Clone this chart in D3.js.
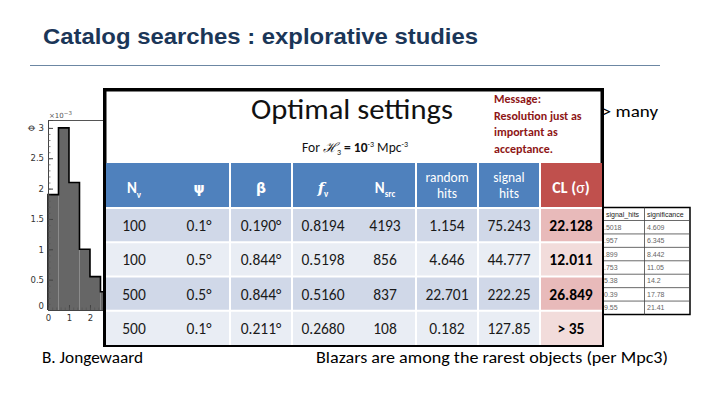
<!DOCTYPE html>
<meta charset="utf-8">
<script src="https://d3js.org/d3.v7.min.js"></script>
<style>
  body { margin: 0; background: #fff; }
  svg { display: block; }
  .calib { font-family: Carlito, Lato, "Noto Sans", sans-serif; }
</style>
<body></body>
<script>

// ---- data ----
var histEdges = [0, 0.5, 1, 1.5, 2, 2.5, 3];
var histValues = [1.9, 3.0, 2.1, 1.0, 0.55, 0.3];
var yTicks = [0, 0.5, 1, 1.5, 2, 2.5, 3];
var xTicks = [0, 1, 2];

var columns = ["nv", "psi", "beta", "fv", "nsrc", "random", "signal", "cl"];
var nuCol = [100, 100, 500, 500];
var psiCol = ["0.1°", "0.5°", "0.5°", "0.1°"];
var betaCol = ["0.190°", "0.844°", "0.844°", "0.211°"];
var fvCol = ["0.8194", "0.5198", "0.5160", "0.2680"];
var nsrcCol = [4193, 856, 837, 108];
var randomCol = ["1.154", "4.646", "22.701", "0.182"];
var signalCol = ["75.243", "44.777", "222.25", "127.85"];
var clCol = ["22.128", "12.011", "26.849", "> 35"];

var smallSignal = [".5018", ".957", ".899", ".753", "5.38", "0.39", "9.55"];
var smallSignif = ["4.609", "6.345", "8.442", "11.05", "14.2", "17.78", "21.41"];

var messageLines = ["Message:", "Resolution just as", "important as", "acceptance."];

// ---- svg ----
var width = 720, height = 405;
var svg = d3.select("body").append("svg")
    .attr("width", width)
    .attr("height", height);

// title
svg.append("text")
    .attr("x", 43).attr("y", 44)
    .attr("font-family", "'Liberation Sans', Arial, sans-serif")
    .attr("font-weight", "bold")
    .attr("font-size", 22)
    .attr("fill", "#1b3658")
    .attr("textLength", 435).attr("lengthAdjust", "spacingAndGlyphs")
    .text("Catalog searches : explorative studies");

svg.append("line")
    .attr("x1", 30).attr("x2", 660)
    .attr("y1", 65.5).attr("y2", 65.5)
    .attr("stroke", "#6c87a3").attr("stroke-width", 1);

// ---- histogram (partly hidden behind the table) ----
var x = d3.scaleLinear().domain([0, 2.62]).range([48, 103]);
var y = d3.scaleLinear().domain([0, 3.13]).range([310, 120]);

var hist = svg.append("g");

var bins = histValues.map(function(v, i) { return {x0: histEdges[i], x1: histEdges[i + 1], v: v}; });

hist.selectAll("rect.bin").data(bins).enter().append("rect")
    .attr("class", "bin")
    .attr("x", function(d) { return x(d.x0); })
    .attr("width", function(d) { return x(d.x1) - x(d.x0); })
    .attr("y", function(d) { return y(d.v); })
    .attr("height", function(d) { return y(0) - y(d.v); })
    .attr("fill", "#666");

var stepPts = [[histEdges[0], 0]];
bins.forEach(function(d) { stepPts.push([d.x0, d.v]); });
stepPts.push([histEdges[histEdges.length - 1], histValues[histValues.length - 1]]);
hist.append("path")
    .attr("d", d3.line().x(function(d) { return x(d[0]); }).y(function(d) { return y(d[1]); })
      .curve(d3.curveStepAfter)(stepPts))
    .attr("fill", "none").attr("stroke", "#000").attr("stroke-width", 1.6);

// frame
hist.append("line").attr("x1", 48).attr("x2", 110).attr("y1", 120.5).attr("y2", 120.5)
    .attr("stroke", "#555").attr("stroke-width", 1);

var yAxis = d3.axisRight(y).tickValues(yTicks).tickSize(5).tickFormat(function(d) { return d === 0 ? "" : d; });
var gy = hist.append("g").attr("transform", "translate(48,0)").call(yAxis);
gy.select(".domain").attr("stroke", "#444");
gy.selectAll(".tick line").attr("stroke", "#444");
gy.selectAll(".tick text").attr("x", -4).attr("text-anchor", "end")
    .attr("font-family", "'DejaVu Sans', sans-serif").attr("font-size", 8.5).attr("fill", "#333");
// minor ticks
hist.append("g").selectAll("line").data(d3.range(0, 3.1, 0.1)).enter().append("line")
    .attr("x1", 48).attr("x2", 50.5)
    .attr("y1", function(d) { return y(d) + 0.5; }).attr("y2", function(d) { return y(d) + 0.5; })
    .attr("stroke", "#555").attr("stroke-width", 0.7);

var xAxis = d3.axisTop(x).tickValues(xTicks).tickSize(5).tickFormat(d3.format("d"));
var gx = hist.append("g").attr("transform", "translate(0,310)").call(xAxis);
gx.select(".domain").attr("stroke", "#444");
gx.selectAll(".tick line").attr("stroke", "#444");
gx.selectAll(".tick text").attr("y", 11).attr("dy", 0)
    .attr("font-family", "'DejaVu Sans', sans-serif").attr("font-size", 8.5).attr("fill", "#333");
hist.append("g").selectAll("line").data(d3.range(0, 2.7, 0.2)).enter().append("line")
    .attr("x1", function(d) { return x(d) + 0.5; }).attr("x2", function(d) { return x(d) + 0.5; })
    .attr("y1", 310).attr("y2", 307.5)
    .attr("stroke", "#555").attr("stroke-width", 0.7);

hist.append("text").attr("x", 44).attr("y", 309)
    .attr("font-family", "'DejaVu Sans', sans-serif").attr("font-size", 8.5).attr("fill", "#333")
    .attr("text-anchor", "end").text("0");

var expo = hist.append("text").attr("x", 49).attr("y", 118)
    .attr("font-family", "'DejaVu Sans', sans-serif").attr("font-size", 7).attr("fill", "#555");
expo.append("tspan").text("×10");
expo.append("tspan").attr("dy", -3).attr("font-size", 5.5).text("−3");

hist.append("text")
    .attr("transform", "translate(35,128) rotate(-90)")
    .attr("font-family", "'DejaVu Sans', sans-serif").attr("font-size", 8).attr("fill", "#333")
    .attr("text-anchor", "middle").text("Φ");

// ---- small significance table (mostly hidden behind the box) ----
var smallRows = d3.scaleBand().domain(d3.range(smallSignal.length)).range([220, 314]);
var small = svg.append("g").attr("font-family", "'Liberation Sans', Arial, sans-serif")
    .attr("font-size", 7).attr("fill", "#666");
small.append("rect").attr("x", 596).attr("y", 207.5).attr("width", 94).attr("height", 107)
    .attr("fill", "#fff").attr("stroke", "#000").attr("stroke-width", 1.5);
small.append("line").attr("x1", 644.5).attr("x2", 644.5).attr("y1", 207.5).attr("y2", 314.5)
    .attr("stroke", "#444").attr("stroke-width", 0.8);
small.selectAll("line.h").data(d3.range(smallSignal.length)).enter().append("line")
    .attr("class", "h")
    .attr("x1", 596).attr("x2", 690)
    .attr("y1", function(i) { return smallRows(i) + 0.5; })
    .attr("y2", function(i) { return smallRows(i) + 0.5; })
    .attr("stroke", "#444").attr("stroke-width", 0.8);
small.append("text").attr("x", 606).attr("y", 217).attr("fill", "#222").text("signal_hits");
small.append("text").attr("x", 647).attr("y", 217).attr("fill", "#222").text("significance");
small.selectAll("text.sg").data(smallSignal).enter().append("text")
    .attr("class", "sg").attr("x", 604)
    .attr("y", function(d, i) { return smallRows(i) + smallRows.bandwidth() / 2 + 3; })
    .text(function(d) { return d; });
small.selectAll("text.sf").data(smallSignif).enter().append("text")
    .attr("class", "sf").attr("x", 647)
    .attr("y", function(d, i) { return smallRows(i) + smallRows.bandwidth() / 2 + 3; })
    .text(function(d) { return d; });

// "-> many" note, its arrow tail is hidden by the box
svg.append("text").attr("class", "calib")
    .attr("x", 596).attr("y", 117)
    .attr("font-size", 16).attr("fill", "#000")
    .attr("textLength", 62).attr("lengthAdjust", "spacingAndGlyphs")
    .text("-> many");

// ---- main table box ----
svg.append("rect")
    .attr("x", 104.75).attr("y", 89.75).attr("width", 497.5).attr("height", 255.5)
    .attr("fill", "#fff").attr("stroke", "#000").attr("stroke-width", 3.5);

svg.append("text").attr("class", "calib")
    .attr("x", 251).attr("y", 119)
    .attr("font-size", 28).attr("fill", "#111")
    .attr("textLength", 202).attr("lengthAdjust", "spacingAndGlyphs")
    .text("Optimal settings");

var forLine = svg.append("text").attr("class", "calib")
    .attr("x", 355).attr("y", 152).attr("text-anchor", "middle")
    .attr("font-size", 13.5).attr("fill", "#111");
forLine.append("tspan").text("For ");
forLine.append("tspan").attr("font-style", "italic").attr("font-family", "'DejaVu Serif', serif").text("ℋ");
forLine.append("tspan").attr("dy", 3).attr("font-size", 8).text("3");
forLine.append("tspan").attr("dy", -3).attr("font-weight", "bold").text(" = 10");
forLine.append("tspan").attr("dy", -5).attr("font-size", 8).text("-3");
forLine.append("tspan").attr("dy", 5).text(" Mpc");
forLine.append("tspan").attr("dy", -5).attr("font-size", 8).text("-3");

// table grid
var colX = d3.scaleBand().domain(columns).range([106, 602]);
var rowY = d3.scaleBand().domain(d3.range(nuCol.length)).range([208, 345]);
var headTop = 163, headBottom = 208;

// merged cell groups as they appear on the slide
var cellGroups = [["nv", "psi"], ["beta"], ["fv", "nsrc"], ["random"], ["signal"], ["cl"]];

var tbl = svg.append("g");
var rowFill = ["#d0d8e8", "#e9edf4"];
var clFill = ["#e8baba", "#f2dcdb"];

cellGroups.forEach(function(g) {
  var x0 = colX(g[0]), x1 = colX(g[g.length - 1]) + colX.bandwidth();
  var isCl = g[0] === "cl";
  tbl.append("rect")
      .attr("x", x0).attr("y", headTop).attr("width", x1 - x0).attr("height", headBottom - headTop)
      .attr("fill", isCl ? "#c0504d" : "#4f81bd");
  tbl.selectAll(null).data(d3.range(nuCol.length)).enter().append("rect")
      .attr("x", x0).attr("y", function(i) { return rowY(i); })
      .attr("width", x1 - x0).attr("height", rowY.bandwidth())
      .attr("fill", function(i) { return isCl ? clFill[i % 2] : rowFill[i % 2]; });
});

// white cell borders
var sepCols = ["beta", "fv", "random", "signal", "cl"];
tbl.selectAll("line.v").data(sepCols).enter().append("line")
    .attr("class", "v")
    .attr("x1", function(d) { return colX(d); }).attr("x2", function(d) { return colX(d); })
    .attr("y1", headTop).attr("y2", 345)
    .attr("stroke", "#fff").attr("stroke-width", 2);
tbl.selectAll("line.h").data(d3.range(nuCol.length)).enter().append("line")
    .attr("class", "h")
    .attr("x1", 106).attr("x2", 602)
    .attr("y1", function(i) { return rowY(i); }).attr("y2", function(i) { return rowY(i); })
    .attr("stroke", "#fff").attr("stroke-width", 2);

// header labels
var head = tbl.append("g").attr("class", "calib").attr("fill", "#fff").attr("text-anchor", "middle");
function cx(c) { return colX(c) + colX.bandwidth() / 2; }

var t = head.append("text").attr("x", cx("nv") - 3).attr("y", 193).attr("font-size", 15).attr("font-weight", "bold");
t.append("tspan").text("N");
t.append("tspan").attr("dy", 5).attr("font-size", 9).text("ν");

head.append("text").attr("x", cx("psi")).attr("y", 193).attr("font-weight", "bold")
    .attr("font-family", "'DejaVu Sans', sans-serif").attr("font-size", 14).text("ψ");
head.append("text").attr("x", cx("beta")).attr("y", 193).attr("font-weight", "bold")
    .attr("font-family", "'DejaVu Sans', sans-serif").attr("font-size", 14).text("β");

t = head.append("text").attr("x", cx("fv")).attr("y", 193).attr("font-size", 15).attr("font-weight", "bold");
t.append("tspan").attr("font-style", "italic").attr("font-family", "'DejaVu Serif', serif").text("f");
t.append("tspan").attr("dy", 4).attr("font-size", 9).text("ν");

t = head.append("text").attr("x", cx("nsrc")).attr("y", 193).attr("font-size", 15).attr("font-weight", "bold");
t.append("tspan").text("N");
t.append("tspan").attr("dy", 4).attr("font-size", 9).text("src");

[["random", "random"], ["signal", "signal"]].forEach(function(p) {
  var tt = head.append("text").attr("x", cx(p[0])).attr("y", 182).attr("font-size", 13.5);
  tt.append("tspan").attr("x", cx(p[0])).text(p[1]);
  tt.append("tspan").attr("x", cx(p[0])).attr("dy", 16).text("hits");
});

t = head.append("text").attr("x", cx("cl")).attr("y", 193).attr("font-size", 16).attr("font-weight", "bold");
t.append("tspan").text("CL (");
t.append("tspan").attr("font-weight", "normal").text("σ");
t.append("tspan").text(")");

// body cells
var bodyCols = {nv: nuCol, psi: psiCol, beta: betaCol, fv: fvCol, nsrc: nsrcCol,
                random: randomCol, signal: signalCol, cl: clCol};
var body = tbl.append("g").attr("class", "calib").attr("fill", "#1a1a1a")
    .attr("text-anchor", "middle").attr("font-size", 15.5);
columns.forEach(function(c) {
  body.selectAll(null).data(bodyCols[c]).enter().append("text")
      .attr("x", cx(c) + (c === "nv" ? -3 : 0))
      .attr("y", function(d, i) { return rowY(i) + rowY.bandwidth() / 2 + 6; })
      .attr("font-weight", c === "cl" ? "bold" : null)
      .attr("fill", c === "cl" ? "#000" : null)
      .text(function(d) { return d; });
});

// message overlay inside the box
var msg = svg.append("g").attr("class", "calib").attr("fill", "#8e1616")
    .attr("font-size", 12).attr("font-weight", "bold");
msg.selectAll("text").data(messageLines).enter().append("text")
    .attr("x", 494)
    .attr("y", function(d, i) { return 103 + i * 16.5; })
    .text(function(d) { return d; });

// footer texts
svg.append("text").attr("class", "calib")
    .attr("x", 42).attr("y", 363).attr("font-size", 16).attr("fill", "#000")
    .attr("textLength", 101).attr("lengthAdjust", "spacingAndGlyphs")
    .text("B. Jongewaard");
svg.append("text").attr("class", "calib")
    .attr("x", 316).attr("y", 363).attr("font-size", 16).attr("fill", "#000")
    .attr("textLength", 352).attr("lengthAdjust", "spacingAndGlyphs")
    .text("Blazars are among the rarest objects (per Mpc3)");

</script>
